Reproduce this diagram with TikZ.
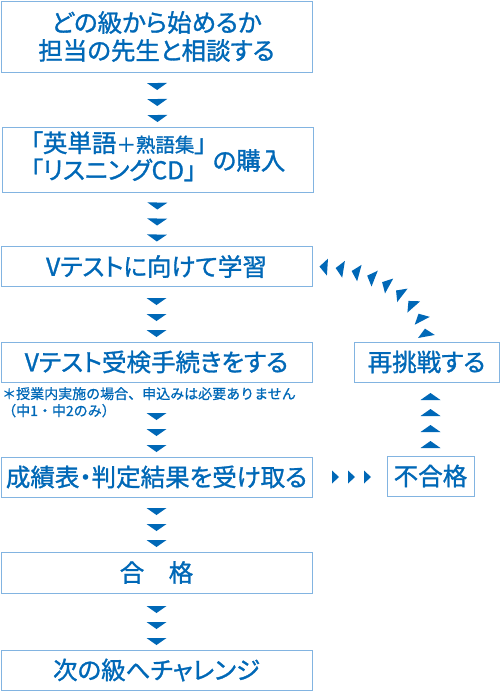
\documentclass[tikz,border=0pt]{standalone}
\usepackage{fontspec}
\setmainfont{Noto Sans CJK JP}[RawFeature=+palt,FakeBold=1.2]
\newfontfamily\notefont{Noto Sans CJK JP}[FakeBold=0.8]
\usetikzlibrary{decorations.markings}
\usepackage{xcolor}

\definecolor{vblue}{RGB}{0,104,183}
\definecolor{vframe}{RGB}{130,180,225}

\newcommand{\tipbig}{\fill[vblue] (3.5pt,0pt) -- (-3.5pt,10pt) -- (-3.5pt,-10pt) -- cycle;}
\newcommand{\tipside}{\fill[vblue] (3.5pt,0pt) -- (-3.5pt,6.5pt) -- (-3.5pt,-6.5pt) -- cycle;}
\newcommand{\tiparc}{\fill[vblue] (4pt,0pt) -- (-4pt,8.5pt) -- (-4pt,-8.5pt) -- cycle;}

\tikzset{
  box/.style={draw=vframe,line width=1pt,fill=white,text=vblue,inner sep=0pt,
    minimum width=311pt,minimum height=40pt,align=center,
    font=\fontsize{24.5}{28}\selectfont},
  remark/.style={text=vblue,inner sep=0pt,align=left,
    font=\notefont\fontsize{14}{17}\selectfont},
  downchain/.style={decoration={markings,
      mark=at position -40pt with {\tipbig},
      mark=at position -24pt with {\tipbig},
      mark=at position -8pt with {\tipbig}},
    postaction=decorate},
  upchain/.style={decoration={markings,
      mark=between positions 11pt and 60pt step 16pt with {\tipbig}},
    postaction=decorate},
  sidechain/.style={decoration={markings,
      mark=between positions 23pt and 56pt step 16pt with {\tipside}},
    postaction=decorate},
  arcchain/.style={decoration={markings,
      mark=between positions 9pt and 139.5pt step 16.25pt with {\tiparc}},
    postaction=decorate}
}

\begin{document}
\begin{tikzpicture}[x=1pt,y=-1pt]
  \useasboundingbox (0,0) rectangle (500,691);

  % main column
  \node[box,minimum height=71pt] (consult) at (156.5,36.5)
    {どの級から始めるか\\担当の先生と相談する};
  \node[box,minimum height=65pt] (buy) at (158,159.5)
    {\begin{tabular}{@{}l@{}}「英単語{\fontsize{19.5}{19.5}\selectfont ＋熟語集}」\\[-2pt]「リスニングCD」\end{tabular}\hspace{6pt}\raisebox{-4pt}{の購入}};
  \node[box] (study) at (156.5,266.5) {Vテストに向けて学習};
  \node[box] (apply) at (156.5,362) {Vテスト受検手続きをする};
  \node[remark,anchor=north west] (note) at (2,387)
    {＊授業内実施の場合、申込みは必要ありません\\（中1・中2のみ）};
  \node[box] (result) at (156.5,477) {成績表・判定結果を受け取る};
  \node[box,minimum height=41pt] (pass) at (156.5,572.5) {合　格};
  \node[box] (next) at (156.5,670) {次の級へチャレンジ};

  % retry loop
  \node[box,minimum width=145pt] (retry) at (426.5,362) {再挑戦する};
  \node[box,minimum width=87pt] (fail) at (430.5,476) {不合格};

  \path[downchain] (consult) -- (buy);
  \path[downchain] (buy) -- (study);
  \path[downchain] (study) -- (apply);
  \path[downchain] (apply) -- (result);
  \path[downchain] (result) -- (pass);
  \path[downchain] (pass) -- (next);
  \path[sidechain] (result.east) -- (result.east -| fail.west);
  \path[upchain] (fail.north) -- (fail.north |- retry.south);
  \path[arcchain] (retry.north) .. controls (426.5,300) and (375,266.5) .. (study.east);
\end{tikzpicture}
\end{document}
